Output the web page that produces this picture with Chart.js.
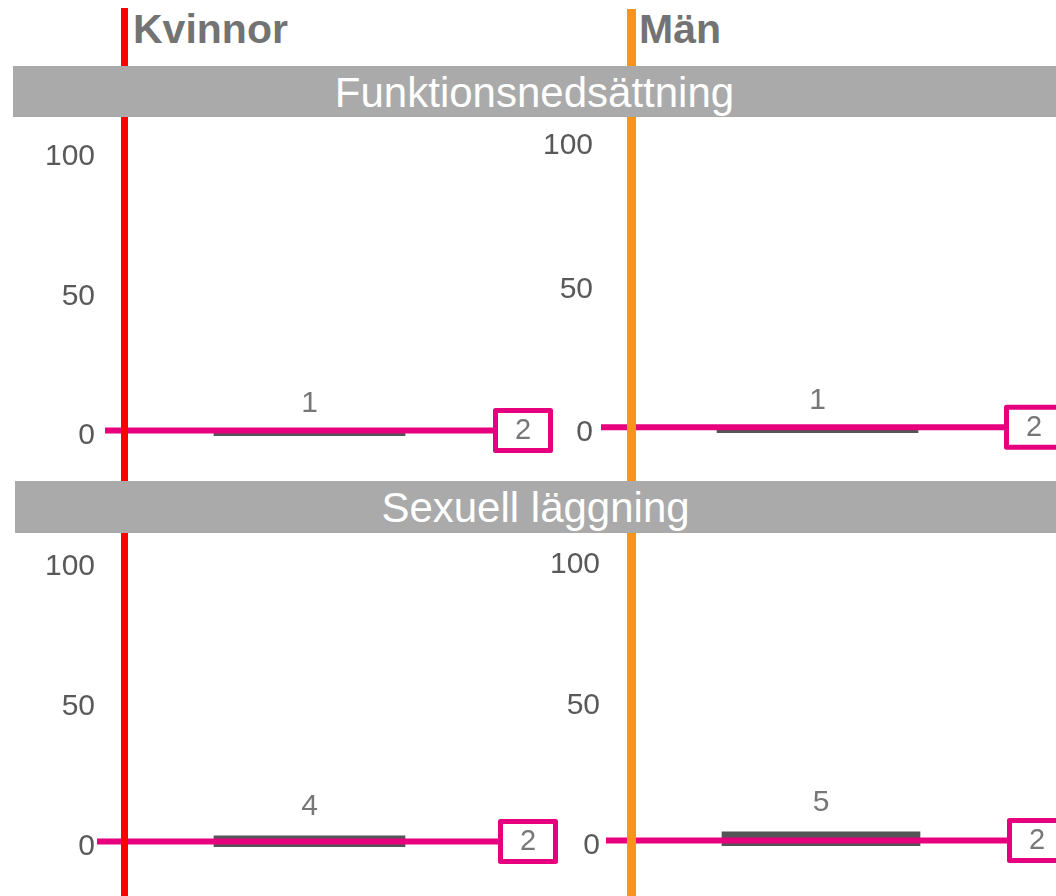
<!DOCTYPE html>
<html><head><meta charset="utf-8">
<script src="https://cdn.jsdelivr.net/npm/chart.js@4.4.0/dist/chart.umd.min.js"></script>
<style>
html,body{margin:0;padding:0;background:#fff;width:1056px;height:896px;overflow:hidden;font-family:"Liberation Sans",Arial,sans-serif;}
canvas{position:absolute;z-index:1;}
.vline{position:absolute;z-index:2;}
.band{position:absolute;z-index:3;background:#aaaaaa;color:#fff;font-size:42px;line-height:53px;text-align:center;white-space:nowrap;overflow:hidden;}
.gender{position:absolute;z-index:3;font-weight:bold;color:#737373;font-size:41px;line-height:40px;white-space:nowrap;}
</style></head><body>
<div class="vline" style="left:121px;top:8px;width:7px;height:888px;background:#ff0000;"></div>
<div class="vline" style="left:627px;top:9px;width:9px;height:887px;background:#f7931e;"></div>
<div class="gender" id="g0" style="left:133px;top:9px;"></div>
<div class="gender" id="g1" style="left:639px;top:9px;"></div>
<div class="band" id="b0" style="left:13px;top:66px;width:1043px;height:51px;"></div>
<div class="band" id="b1" style="left:15px;top:481px;width:1041px;height:52px;"></div>
<canvas id="c0"></canvas><canvas id="c1"></canvas><canvas id="c2"></canvas><canvas id="c3"></canvas>
<script>
// ---- data ----
const groups = ['Funktionsnedsättning', 'Sexuell läggning'];
const genders = ['Kvinnor', 'Män'];
const kvinnorValues = [1, 4];
const manValues = [1, 5];
const kvinnorRef = [2, 2];
const manRef = [2, 2];
const yTicks = [0, 50, 100];

// ---- layout (page pixels) ----
const panelLayout = [
  {g:0, s:0, cv:{left:0,top:120,w:560,h:360}, area:{left:105,right:514,y100:157,y0:436}, tickPad:10, bar:191, boxLeft:493},
  {g:0, s:1, cv:{left:520,top:120,w:536,h:360}, area:{left:601,right:1034,y100:146,y0:433}, tickPad:8, bar:201, boxLeft:1004},
  {g:1, s:0, cv:{left:0,top:535,w:560,h:361}, area:{left:97,right:522,y100:567,y0:847}, tickPad:2, bar:191, boxLeft:498},
  {g:1, s:1, cv:{left:520,top:535,w:536,h:361}, area:{left:606,right:1036,y100:565,y0:846}, tickPad:6, bar:198, boxLeft:1007}
];
const MAGENTA = '#e6007e';
const FONT = '"Liberation Sans", Arial, sans-serif';

document.getElementById('g0').textContent = genders[0];
document.getElementById('g1').textContent = genders[1];
document.getElementById('b0').textContent = groups[0];
document.getElementById('b1').textContent = groups[1];

const refPlugin = {
  id: 'refPlugin',
  afterDatasetsDraw(chart, args, opts) {
    const ctx = chart.ctx, ca = chart.chartArea;
    const y = chart.scales.y.getPixelForValue(opts.ref);
    const boxX = ca.right - opts.boxGap, boxW = 60, boxH = 45;
    ctx.save();
    // reference line
    ctx.strokeStyle = MAGENTA; ctx.lineWidth = 6;
    ctx.beginPath(); ctx.moveTo(ca.left, y); ctx.lineTo(boxX, y); ctx.stroke();
    // box
    const bx = boxX, by = y - boxH / 2;
    ctx.fillStyle = '#fff';
    ctx.fillRect(bx, by, boxW, boxH);
    ctx.lineWidth = 5; ctx.lineJoin = 'round';
    ctx.strokeRect(bx + 2.5, by + 2.5, boxW - 5, boxH - 5);
    ctx.fillStyle = '#777777';
    ctx.font = '29px ' + FONT;
    ctx.textAlign = 'center'; ctx.textBaseline = 'middle';
    ctx.fillText(String(opts.ref), bx + boxW / 2, y + 1);
    // value label above bar
    ctx.font = '30px ' + FONT;
    const meta = chart.getDatasetMeta(0);
    meta.data.forEach((el, i) => {
      const v = chart.data.datasets[0].data[i];
      ctx.fillText(String(v), el.x, el.y - 29);
    });
    ctx.restore();
  }
};

panelLayout.forEach((p, idx) => {
  const cv = document.getElementById('c' + idx);
  cv.width = p.cv.w; cv.height = p.cv.h;
  cv.style.left = p.cv.left + 'px'; cv.style.top = p.cv.top + 'px';
  cv.style.width = p.cv.w + 'px'; cv.style.height = p.cv.h + 'px';
  const values = p.s === 0 ? kvinnorValues : manValues;
  const refs = p.s === 0 ? kvinnorRef : manRef;
  const axisW = p.area.left - p.cv.left;
  new Chart(cv, {
    type: 'bar',
    data: {
      labels: [groups[p.g]],
      datasets: [{data: [values[p.g]], backgroundColor: '#555555', barThickness: p.bar, borderWidth: 0}]
    },
    options: {
      responsive: false, animation: false, devicePixelRatio: 1,
      layout: {padding: {left: 0, top: p.area.y100 - p.cv.top, right: p.cv.left + p.cv.w - p.area.right, bottom: p.cv.top + p.cv.h - p.area.y0}},
      plugins: {legend: {display: false}, tooltip: {enabled: false}, title: {display: false},
        refPlugin: {ref: refs[p.g], boxGap: p.area.right - p.boxLeft}},
      scales: {
        x: {display: false},
        y: {
          min: 0, max: 100,
          afterBuildTicks: (s) => { s.ticks = yTicks.map(v => ({value: v})); },
          afterFit: (s) => { s.width = axisW; s.paddingTop = 0; s.paddingBottom = 0; },
          grid: {display: false, drawTicks: false},
          border: {display: false},
          ticks: {padding: p.tickPad, color: '#595959', font: {family: FONT, size: 30}}
        }
      }
    },
    plugins: [refPlugin]
  });
});
</script>
</body></html>
